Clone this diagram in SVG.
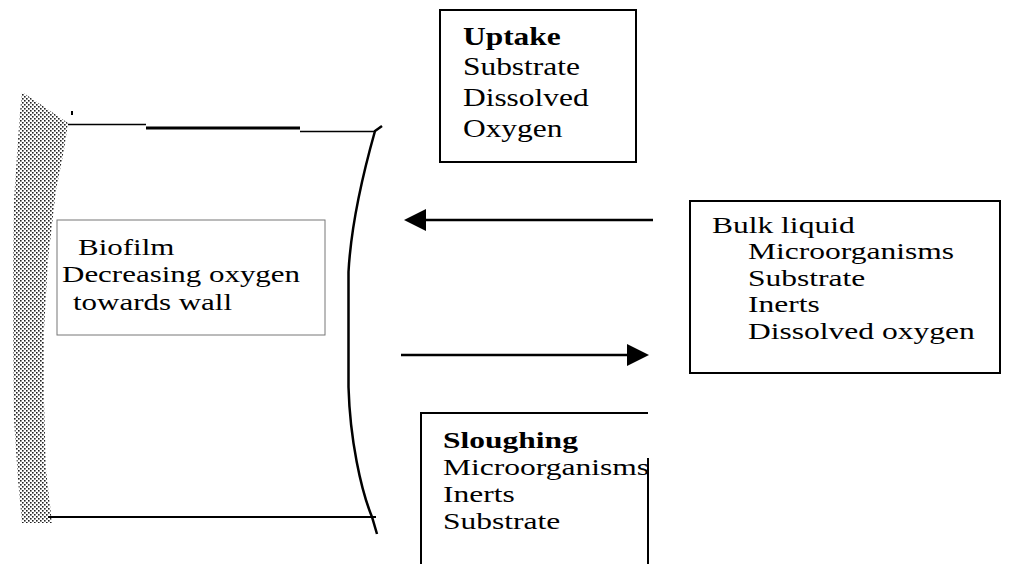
<svg xmlns="http://www.w3.org/2000/svg" width="1011" height="564" viewBox="0 0 1011 564">
<defs>
<style>
.t{font-family:"Liberation Serif","Times New Roman",serif;fill:#000}
.s23{font-size:23px}
.s24{font-size:24px}
.s26{font-size:26px}
.b{font-weight:bold}
.box{fill:none;stroke:#000;stroke-width:2}
.ln{fill:none;stroke:#000;stroke-linecap:butt}
.arr{fill:none;stroke:#000;stroke-width:2.5}
</style>
<pattern id="stip" width="4" height="4" patternUnits="userSpaceOnUse">
<rect width="4" height="4" fill="#fff"/>
<rect x="0" y="0" width="1.6" height="1.6" fill="#222"/>
<rect x="2" y="2" width="1.6" height="1.6" fill="#222"/>
</pattern>
<marker id="ah" viewBox="0 0 22 22" refX="2" refY="11" markerWidth="22" markerHeight="22" markerUnits="userSpaceOnUse" orient="auto">
<path d="M0,0 L22,11 L0,22 Z" fill="#000"/>
</marker>
</defs>

<g id="wall">
<path d="M22,92 L40,104 L68,123 L64,150 L56,190 L48,260 L44,330 L44,400 L46,470 L50,505 L52,523 L22,523 L18,480 L14,420 L13,340 L13,260 L14,200 L18,140 L20,112 Z" fill="url(#stip)"/>
<rect x="71" y="111" width="2" height="4" fill="#000"/>
</g>

<g id="biofilm-boundary">
<path class="ln" d="M68,124.5 L146,124.5" stroke-width="1.5"/>
<path class="ln" d="M146,128 L300,128" stroke-width="3"/>
<path class="ln" d="M300,131.5 L374,131.5" stroke-width="1.5"/>
<path class="ln" d="M382,126 L375,131 C364,170 351,225 348.5,272 L348.5,387 C350,440 361,490 372,517 L377,534" stroke-width="2.5"/>
<path class="ln" d="M48,517 L376,517" stroke-width="2"/>
</g>

<g id="biofilm">
<rect x="57" y="220" width="268" height="115" fill="none" stroke="#777" stroke-width="1"/>
<text class="t s24" transform="scale(1.29,1)"><tspan x="60.5" y="255">Biofilm</tspan><tspan x="48.1" y="282.5">Decreasing oxygen</tspan><tspan x="56.6" y="310">towards wall</tspan></text>
</g>

<g id="uptake">
<rect class="box" x="440" y="10" width="196" height="152"/>
<text class="t s26" transform="scale(1.21,1)"><tspan class="b" x="382.6" y="45">Uptake</tspan><tspan x="382.6" y="75.5">Substrate</tspan><tspan x="382.6" y="106.5">Dissolved</tspan><tspan x="382.6" y="137">Oxygen</tspan></text>
</g>

<g id="bulk-liquid">
<rect class="box" x="690" y="201" width="310" height="172"/>
<text class="t s23" transform="scale(1.37,1)"><tspan x="519.7" y="233">Bulk liquid</tspan><tspan x="546" y="259.5">Microorganisms</tspan><tspan x="546" y="286">Substrate</tspan><tspan x="546" y="312.5">Inerts</tspan><tspan x="546" y="339">Dissolved oxygen</tspan></text>
</g>

<g id="sloughing">
<path class="box" d="M421,564 L421,413 L648,413 M648,458 L648,564"/>
<text class="t s23" transform="scale(1.37,1)"><tspan class="b" x="323.4" y="448">Sloughing</tspan><tspan x="323.4" y="475">Microorganisms</tspan><tspan x="323.4" y="502">Inerts</tspan><tspan x="323.4" y="529">Substrate</tspan></text>
</g>

<g id="connectors">
<path class="arr" d="M653,220 L424,220" marker-end="url(#ah)"/>
<path class="arr" d="M401,355 L629,355" marker-end="url(#ah)"/>
</g>
</svg>
